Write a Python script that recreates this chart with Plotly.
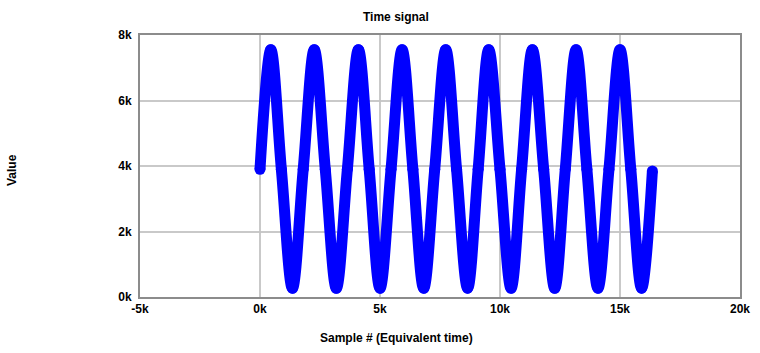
import plotly.graph_objects as go

# Samples: start, peaks, troughs and mid crossings
sample_x = [0, 450, 890, 1350, 1800, 2260, 2720, 3180, 3640, 4100, 4550, 5000, 5460,
            5920, 6370, 6820, 7280, 7740, 8190, 8650, 9090, 9530, 10000, 10460, 10900,
            11350, 11820, 12280, 12720, 13170, 13620, 14080, 14540, 15000, 15450, 15900, 16350]
sample_y = [3900, 7550, 3900, 270, 3900, 7550, 3900, 270, 3900, 7550, 3900, 270, 3900,
            7550, 3900, 270, 3900, 7550, 3900, 270, 3900, 7550, 3900, 270, 3900,
            7550, 3900, 270, 3900, 7550, 3900, 270, 3900, 7550, 3900, 270, 3850]

x_tickvals = [-5000, 0, 5000, 10000, 15000, 20000]
x_ticktext = ["-5k", "0k", "5k", "10k", "15k", "20k"]
y_tickvals = [0, 2000, 4000, 6000, 8000]
y_ticktext = ["0k", "2k", "4k", "6k", "8k"]

font_family = "Liberation Sans, Arial, sans-serif"
txt_font = dict(family=font_family, size=12, color="#000")

fig = go.Figure()
fig.add_trace(go.Scatter(
    x=sample_x, y=sample_y,
    mode="lines+markers",
    line=dict(color="#0000ff", width=11, shape="spline", smoothing=1.0),
    marker=dict(color="#0000ff", size=11),
    showlegend=False,
    hoverinfo="skip",
))

axis_common = dict(
    showgrid=True, gridcolor="rgba(195,195,195,0.9)", gridwidth=2,
    showline=True, linecolor="#8c8c8c", linewidth=2, mirror=True,
    zeroline=False, ticks="", layer="above traces", automargin=False,
    tickfont=txt_font,
)

L, T, W, H = 140, 35, 600, 262

fig.update_layout(
    width=760, height=353,
    margin=dict(l=L, r=760 - L - W, t=T, b=353 - T - H),
    paper_bgcolor="white", plot_bgcolor="white",
    xaxis=dict(range=[-5000, 20000], tickvals=x_tickvals,
               ticktext=[f"<b>{t}</b>" for t in x_ticktext], **axis_common),
    yaxis=dict(range=[0, 8000], tickvals=y_tickvals,
               ticktext=[f"<b>{t}</b>" for t in y_ticktext],
               ticklabelstandoff=4, **axis_common),
    annotations=[
        dict(text="<b>Time signal</b>", x=(396 - L) / W, y=(T + H - 17) / H,
             xref="paper", yref="paper", showarrow=False,
             xanchor="center", yanchor="middle", font=txt_font),
        dict(text="<b>Sample # (Equivalent time)</b>", x=(396 - L) / W, y=(T + H - 338) / H,
             xref="paper", yref="paper", showarrow=False,
             xanchor="center", yanchor="middle", font=txt_font),
        dict(text="<b>Value</b>", x=(12 - L) / W, y=(T + H - 170) / H,
             xref="paper", yref="paper", showarrow=False, textangle=-90,
             xanchor="center", yanchor="middle", font=txt_font),
    ],
)

fig.write_html("out.html")
